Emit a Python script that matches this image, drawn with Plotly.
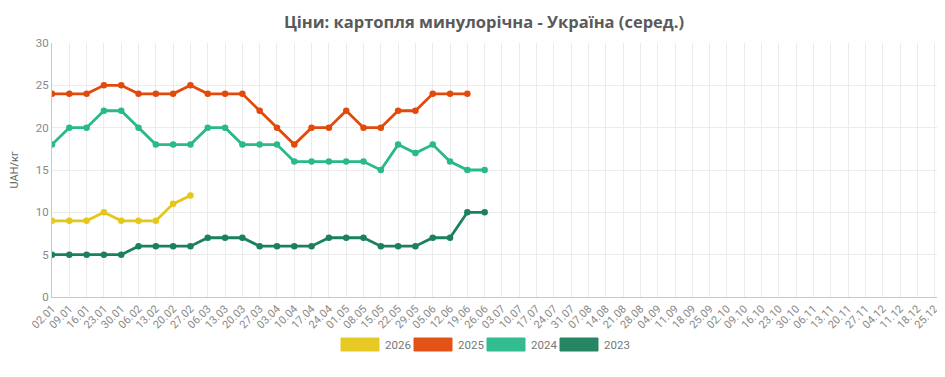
import plotly.graph_objects as go

dates = ["02.01","09.01","16.01","23.01","30.01","06.02","13.02","20.02","27.02","06.03",
         "13.03","20.03","27.03","03.04","10.04","17.04","24.04","01.05","08.05","15.05",
         "22.05","29.05","05.06","12.06","19.06","26.06","03.07","10.07","17.07","24.07",
         "31.07","07.08","14.08","21.08","28.08","04.09","11.09","18.09","25.09","02.10",
         "09.10","16.10","23.10","30.10","06.11","13.11","20.11","27.11","04.12","11.12",
         "18.12","25.12","01.01"]

v2026 = [9, 9, 9, 10, 9, 9, 9, 11, 12]
v2025 = [24, 24, 24, 25, 25, 24, 24, 24, 25, 24, 24, 24, 22, 20, 18, 20, 20, 22, 20, 20,
         22, 22, 24, 24, 24]
v2024 = [18, 20, 20, 22, 22, 20, 18, 18, 18, 20, 20, 18, 18, 18, 16, 16, 16, 16, 16, 15,
         18, 17, 18, 16, 15, 15]
v2023 = [5, 5, 5, 5, 5, 6, 6, 6, 6, 7, 7, 7, 6, 6, 6, 6, 7, 7, 7, 6,
         6, 6, 7, 7, 10, 10]

series = [("2026", v2026, "#e5c71a"),
          ("2025", v2025, "#e24a0c"),
          ("2024", v2024, "#29b98a"),
          ("2023", v2023, "#1b805c")]

fig = go.Figure()
for name, vals, col in series:
    fig.add_trace(go.Scatter(
        x=dates[:len(vals)], y=vals, mode="lines+markers", name=name,
        line=dict(color=col, width=2.8), marker=dict(color=col, size=6.5),
        showlegend=False))

# page body has an 8px default margin; compensate
OFF = 8
W, H = 945 - OFF, 377 - OFF
L, R, T, B = 52 - OFF, 0, 43 - OFF, 80
pw = W - L - R
ph = H - T - B
def px(x):
    return (x - OFF - L) / pw
def py(y):
    return (H - B - (y - OFF)) / ph

sw_x = [341, 414, 487, 560]
for (name, vals, col), sx in zip(series, sw_x):
    fig.add_shape(type="rect", xref="paper", yref="paper",
                  x0=px(sx), x1=px(sx + 38), y0=py(351), y1=py(338),
                  fillcolor=col, line=dict(color=col, width=1), opacity=0.95)
    fig.add_annotation(xref="paper", yref="paper", x=px(sx + 42), y=py(345),
                       text=name, showarrow=False, xanchor="left", yanchor="middle",
                       font=dict(family="Roboto", size=11.5, color="#777"))

fig.update_layout(
    width=W, height=H,
    margin=dict(l=L, r=R, t=T, b=B),
    paper_bgcolor="white", plot_bgcolor="white",
    title=dict(text="<b>Ціни: картопля минулорічна - Україна (серед.)</b>",
               x=(484 - OFF) / W, xanchor="center", y=1 - (22 - OFF) / H, yanchor="middle",
               font=dict(family="Open Sans", size=16.5, color="#5a5a5a")),
    xaxis=dict(type="category", categoryorder="array", categoryarray=dates,
               tickvals=dates, range=[0, 51.6],
               showgrid=True, gridcolor="#ebebeb", gridwidth=1,
               showline=True, linecolor="#c8c8c8", linewidth=1,
               tickangle=-45, tickfont=dict(family="Roboto", size=11, color="#888"),
               ticks="", zeroline=False),
    yaxis=dict(range=[0, 30], dtick=5, showgrid=True, gridcolor="#ebebeb",
               showline=True, linecolor="#c8c8c8", linewidth=1,
               tickfont=dict(family="Roboto", size=11.5, color="#888"),
               title=dict(text="UAH/кг", font=dict(family="Roboto", size=11, color="#666"),
                          standoff=14),
               zeroline=False, ticks=""),
)

fig.write_html("out.html")
